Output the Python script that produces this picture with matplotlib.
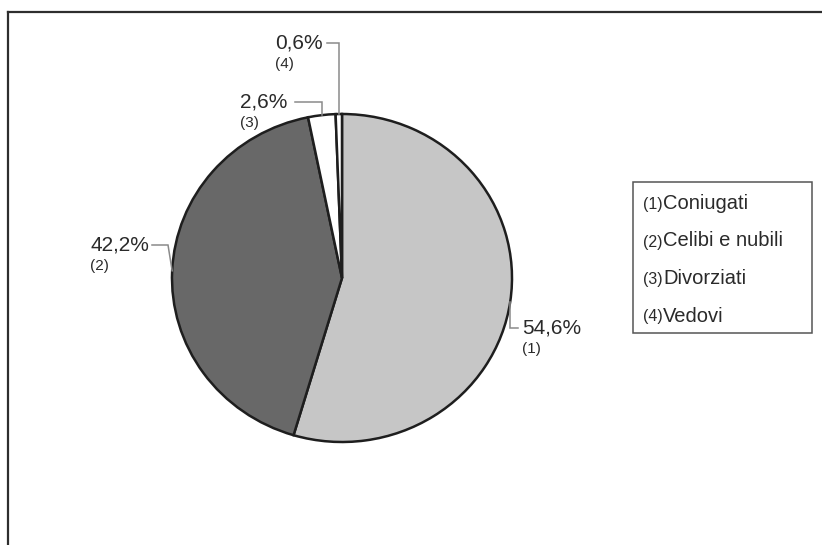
import matplotlib.pyplot as plt
import numpy as np
from matplotlib.patches import Rectangle

categories = ["Coniugati", "Celibi e nubili", "Divorziati", "Vedovi"]
shares = [54.6, 42.2, 2.6, 0.6]
colors = ["#c6c6c6", "#686868", "#ffffff", "#ffffff"]

# percent label placement in pixels (left x, centre y), top-left origin
label_xy = [(522, 328), (90, 245), (240, 102), (275, 43)]
# where each leader line stops next to its label, and optional elbow x
leader_tip_x = [518, 152, 295, 327]
leader_elbow_x = [None, 168, None, None]

W, H = 822, 545
plt.rcParams["font.family"] = ["Liberation Sans", "DejaVu Sans"]
fig = plt.figure(figsize=(W / 100, H / 100), dpi=100)
fig.patch.set_facecolor("white")

# overlay axes in pixel units for frame, labels and legend
ov = fig.add_axes([0, 0, 1, 1], zorder=2)
ov.set_xlim(0, W)
ov.set_ylim(H, 0)
ov.axis("off")
ov.patch.set_alpha(0)

# pie axes: centre (342, 278), radii 170 x 164 px
cx, cy, rx, ry = 342, 278, 170, 164
ax = fig.add_axes([(cx - rx) / W, 1 - (cy + ry) / H, 2 * rx / W, 2 * ry / H], zorder=1)
wedges, _ = ax.pie(shares, colors=colors, startangle=90, counterclock=False,
                   wedgeprops=dict(edgecolor="#1e1e1e", linewidth=1.8))
ax.set_aspect("auto")
ax.set_xlim(-1, 1)
ax.set_ylim(-1, 1)
ax.axis("off")

to_px = ax.transData + ov.transData.inverted()
grey = "#8a8a8a"
txt = "#2a2a2a"

for i, w in enumerate(wedges):
    mid = np.deg2rad((w.theta1 + w.theta2) / 2)
    ex, ey = to_px.transform((np.cos(mid), np.sin(mid)))
    lx, ly = label_xy[i]
    elbow_x = ex if leader_elbow_x[i] is None else leader_elbow_x[i]
    ov.plot([ex, elbow_x, leader_tip_x[i]], [ey, ly, ly], color=grey, lw=1.1,
            solid_joinstyle="miter")
    pct = f"{shares[i]:.1f}".replace(".", ",") + "%"
    ov.text(lx, ly, pct, fontsize=15, color=txt, ha="left", va="center")
    ov.text(lx, ly + 21, f"({i + 1})", fontsize=11, color=txt, ha="left", va="center")

# outer frame (runs off the right and bottom edges)
ov.plot([8, W + 5], [12, 12], color="#2e2e2e", lw=1.6)
ov.plot([8, 8], [12, H + 5], color="#2e2e2e", lw=1.6)

# legend box with numbered entries
ov.add_patch(Rectangle((633, 182), 179, 151, fill=False, edgecolor="#555555", lw=1.1))
for i, name in enumerate(categories):
    y = 209 + i * 37.5
    ov.text(643, y, f"({i + 1})", fontsize=11.5, color=txt, ha="left", va="baseline")
    ov.text(663, y, name, fontsize=14.5, color=txt, ha="left", va="baseline")

fig.savefig("out.png", dpi=100)
